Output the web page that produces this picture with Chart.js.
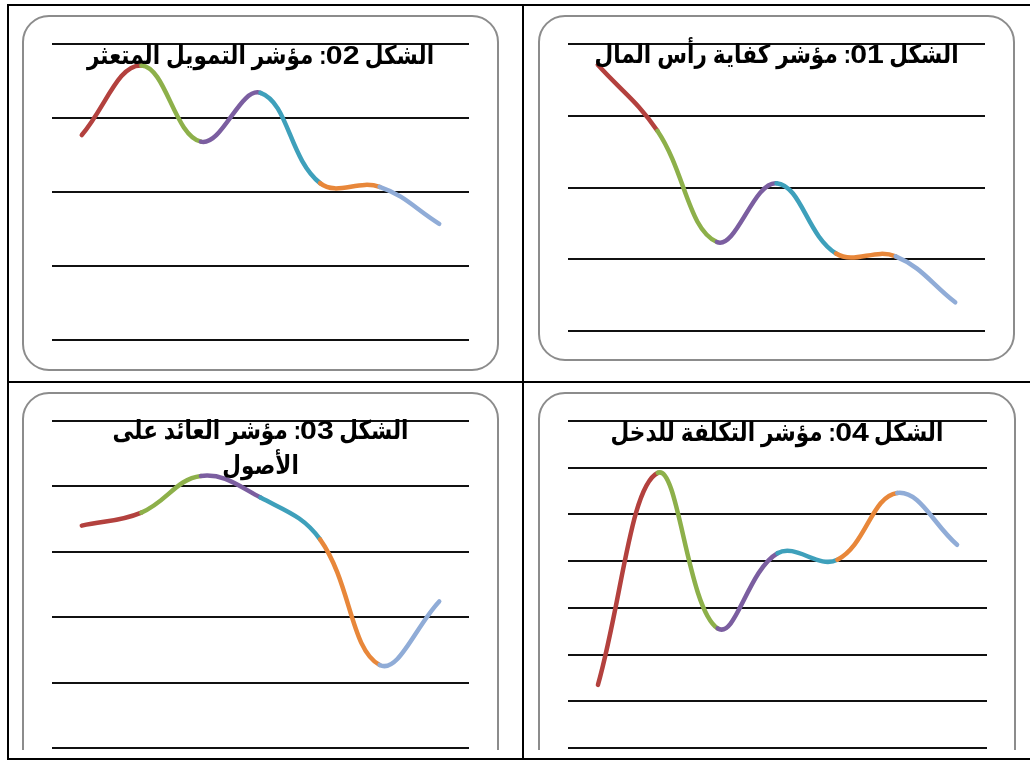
<!DOCTYPE html>
<html lang="ar">
<head>
<meta charset="utf-8">
<title>مؤشرات</title>
<script src="https://cdn.jsdelivr.net/npm/chart.js@4.4.1/dist/chart.umd.min.js"></script>
<style>
    html, body { margin: 0; padding: 0; background: #fff; }
    #page { position: relative; width: 1030px; height: 761px; overflow: hidden; }
    .rule { position: absolute; background: #000; }
    .frame { position: absolute; border: 2px solid #8c8c8c; border-radius: 27px; box-sizing: border-box; background: #fff; }
    .plot { position: absolute; }
    .clip { position: absolute; left: 0; width: 1030px; overflow: hidden; }
    .title {
        position: absolute; direction: rtl; text-align: center; white-space: nowrap;
        font-family: "Liberation Sans", "DejaVu Sans", sans-serif; font-weight: bold;
        font-size: 26px; line-height: 35px; color: #000; z-index: 5;
        transform: scaleX(0.83); transform-origin: 50% 0;
    }
    .title .num { display: inline-block; transform: scaleX(1.4); margin: 0 5px; }
</style>
</head>
<body>
<div id="page">
    <!-- table rules -->
    <div class="rule" style="left:7px;top:4px;width:1023px;height:2px"></div>
    <div class="rule" style="left:7px;top:4px;width:2px;height:756px"></div>
    <div class="rule" style="left:522px;top:4px;width:2px;height:756px"></div>
    <div class="rule" style="left:7px;top:381px;width:1023px;height:2px"></div>
    <div class="rule" style="left:7px;top:758px;width:1023px;height:2px"></div>

    <!-- top row -->
    <div class="frame" style="left:22px;top:15px;width:477px;height:356px"></div>
    <div class="frame" style="left:538px;top:15px;width:477px;height:346px"></div>
    <div class="plot" style="left:44px;top:36px;width:433px;height:312px"><canvas id="chart02"></canvas></div>
    <div class="plot" style="left:560px;top:36px;width:433px;height:303px"><canvas id="chart01"></canvas></div>
    <div class="title" id="title02" style="left:22px;width:477px;top:38px"></div>
    <div class="title" id="title01" style="left:538px;width:477px;top:37px"></div>

    <!-- bottom row, cut off at the cell bottom -->
    <div class="clip" style="top:384px;height:366px">
        <div class="frame" style="left:22px;top:8px;width:477px;height:420px"></div>
        <div class="frame" style="left:538px;top:8px;width:478px;height:420px"></div>
        <div class="plot" style="left:44px;top:29px;width:433px;height:343px"><canvas id="chart03"></canvas></div>
        <div class="plot" style="left:560px;top:29px;width:435px;height:343px"><canvas id="chart04"></canvas></div>
        <div class="title" id="title03" style="left:22px;width:477px;top:29px"></div>
        <div class="title" id="title04" style="left:538px;width:478px;top:31px"></div>
    </div>
</div>

<script>
// Shared categories (seven periods, not labelled in the figure)
const periods = ['1', '2', '3', '4', '5', '6', '7'];

// Series values (one unit per gridline)
const capitalAdequacy = [3.71, 2.79, 1.24, 2.06, 1.08, 1.04, 0.40];   // figure 01
const nonPerforming   = [2.77, 3.71, 2.68, 3.34, 2.12, 2.07, 1.57];   // figure 02
const returnOnAssets  = [3.40, 3.60, 4.16, 3.83, 3.19, 1.27, 2.24];   // figure 03
const costToIncome    = [1.35, 5.89, 2.56, 4.17, 4.03, 5.46, 4.35];   // figure 04

// Gridline count per figure (axis max)
const axisMax = { chart01: 4, chart02: 4, chart03: 5, chart04: 7 };

// Titles
const title01 = ['الشكل 01: مؤشر كفاية رأس المال'];
const title02 = ['الشكل 02: مؤشر التمويل المتعثر'];
const title03 = ['الشكل 03: مؤشر العائد على', 'الأصول'];
const title04 = ['الشكل 04: مؤشر التكلفة للدخل'];

// One colour per segment (vary colours by point)
const segmentColors = ['#b3413e', '#8db04a', '#7b5ea0', '#3ea0bb', '#e8873a', '#90acd7'];

// Put title lines in, with the figure number in its own (wider) span
function setTitle(id, lines) {
    const el = document.getElementById(id);
    lines.forEach((line, i) => {
        if (i > 0) el.appendChild(document.createElement('br'));
        line.split(/(\d+)/).forEach(part => {
            if (!part) return;
            if (/^\d+$/.test(part)) {
                const span = document.createElement('span');
                span.className = 'num';
                span.textContent = part;
                el.appendChild(span);
            } else {
                el.appendChild(document.createTextNode(part));
            }
        });
    });
}

function makeChart(id, values) {
    return new Chart(document.getElementById(id), {
        type: 'line',
        data: {
            labels: periods,
            datasets: [{
                data: values,
                borderWidth: 4.5,
                borderCapStyle: 'round',
                borderColor: segmentColors[0],
                segment: {
                    borderColor: ctx => segmentColors[ctx.p0DataIndex]
                },
                pointRadius: 0,
                pointHoverRadius: 0,
                tension: 0.4,
                fill: false,
                clip: false
            }]
        },
        options: {
            responsive: true,
            maintainAspectRatio: false,
            animation: false,
            layout: { padding: 8 },
            plugins: {
                legend: { display: false },
                tooltip: { enabled: false },
                title: { display: false }
            },
            scales: {
                x: { type: 'category', offset: true, display: false },
                y: {
                    min: 0,
                    max: axisMax[id],
                    ticks: { display: false, stepSize: 1 },
                    grid: { color: '#111', lineWidth: 2, drawTicks: false },
                    border: { display: false }
                }
            }
        }
    });
}

setTitle('title01', title01);
setTitle('title02', title02);
setTitle('title03', title03);
setTitle('title04', title04);

makeChart('chart01', capitalAdequacy);
makeChart('chart02', nonPerforming);
makeChart('chart03', returnOnAssets);
makeChart('chart04', costToIncome);
</script>
</body>
</html>
